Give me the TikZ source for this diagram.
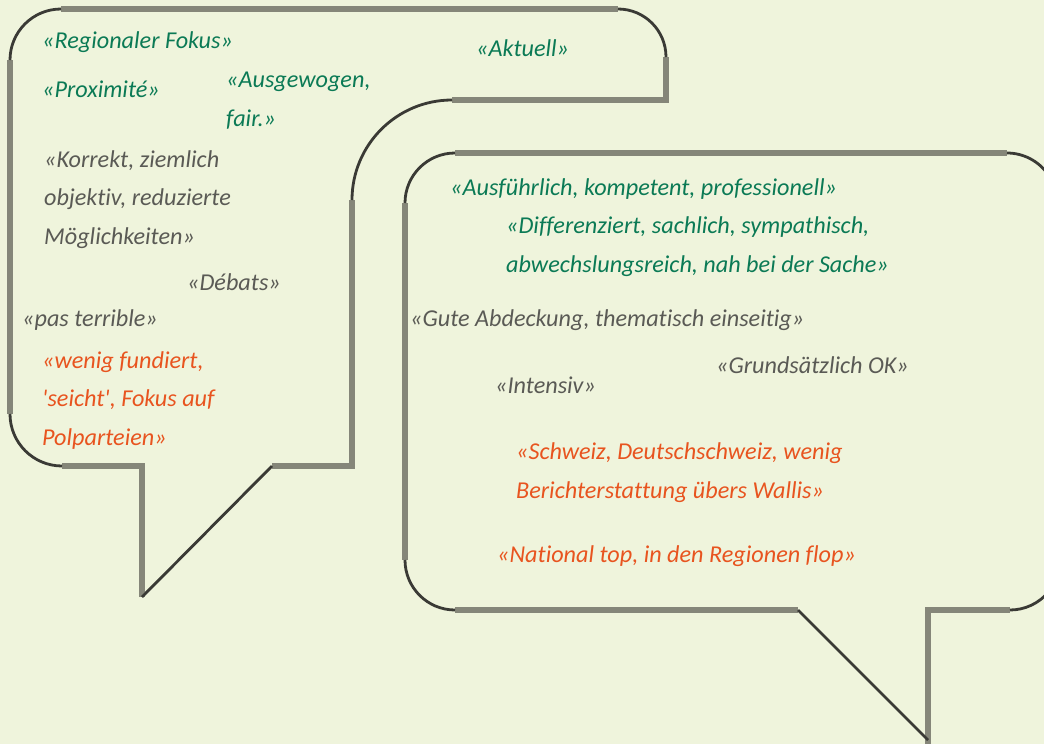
\documentclass[tikz,border=0pt]{standalone}
\usepackage{fontspec}
\setmainfont{Carlito}[Ligatures={TeXOff,NoCommon}]
\usetikzlibrary{positioning}
\definecolor{bg}{HTML}{EFF4DC}
\definecolor{rim}{HTML}{858679}
\definecolor{rimdark}{HTML}{3A3A35}
\definecolor{qgreen}{HTML}{0B7A55}
\definecolor{qgray}{HTML}{5A5A55}
\definecolor{qorange}{HTML}{E8541F}
\begin{document}
\begin{tikzpicture}[x=1pt, y=-1pt,
	rim/.style={draw=rim, line width=5.5pt, line join=miter},
	rimcurve/.style={draw=rimdark, line width=2.8pt},
	quote/.style={anchor=base west, inner sep=0pt, align=left, font=\fontsize{24.2}{38.5}\selectfont\itshape},
	qg/.style={quote, text=qgreen},
	qy/.style={quote, text=qgray},
	qo/.style={quote, text=qorange}]
	\fill[bg] (0,0) rectangle (1044,744);
	\clip (0,0) rectangle (1044,744);
	% left bubble
	\draw[rim] (61,9) -- (618,9);
	\draw[rim] (666,57) -- (666,100) -- (452,100);
	\draw[rim] (352,200) -- (352,466) -- (272,466);
	\draw[rim] (142,597) -- (142,466) -- (62,466);
	\draw[rim] (10,414) -- (10,60);
	\draw[rimcurve] (10,60) arc[start angle=180, end angle=270, radius=51];
	\draw[rimcurve] (618,9) arc[start angle=270, end angle=360, radius=48];
	\draw[rimcurve] (452,100) arc[start angle=270, end angle=180, radius=100];
	\draw[rimcurve] (62,466) arc[start angle=90, end angle=180, radius=52];
	\draw[rimcurve] (272,466) -- (142,597);
	% right bubble
	\draw[rim] (455,153) -- (1007,153);
	\draw[rim] (405,203) -- (405,560);
	\draw[rim] (455,610) -- (798,610);
	\draw[rim] (928,748) -- (928,610) -- (1010,610);
	\draw[rimcurve] (405,203) arc[start angle=180, end angle=270, radius=50];
	\draw[rimcurve] (1007,153) arc[start angle=270, end angle=325, radius=50];
	\draw[rimcurve] (405,560) arc[start angle=180, end angle=90, radius=50];
	\draw[rimcurve] (1010,610) arc[start angle=90, end angle=40, radius=50];
	\draw[rimcurve] (798,610) -- (928,740);
	% quotes, left (multi-line nodes sit on their last line)
	\node[qg] (regional) at (42,48) {«Regionaler Fokus»};
	\node[qg] (aktuell) at (476,56) {«Aktuell»};
	\node[qg] (proxi) at (42,97) {«Proximité»};
	\node[qg] (ausgew) at (226,126) {«Ausgewogen,\\fair.»};
	\node[qy] (korrekt) at (44,244) {«Korrekt, ziemlich\\objektiv, reduzierte\\Möglichkeiten»};
	\node[qy] (debats) at (187,290) {«Débats»};
	\node[qy] (pas) at (22,326) {«pas terrible»};
	\node[qo] (wenig) at (42,445) {«wenig fundiert,\\'seicht', Fokus auf\\Polparteien»};
	% quotes, right
	\node[qg] (ausf) at (450,195) {«Ausführlich, kompetent, professionell»};
	\node[qg] (diff) at (506,272) {«Differenziert, sachlich, sympathisch,\\abwechslungsreich, nah bei der Sache»};
	\node[qy] (gute) at (410,326) {«Gute Abdeckung, thematisch einseitig»};
	\node[qy] (grund) at (716,373) {«Grundsätzlich OK»};
	\node[qy] (intens) at (495,393) {«Intensiv»};
	\node[qo] (schweiz) at (516,498) {«Schweiz, Deutschschweiz, wenig\\Berichterstattung übers Wallis»};
	\node[qo] (national) at (497,562) {«National top, in den Regionen flop»};
\end{tikzpicture}
\end{document}
